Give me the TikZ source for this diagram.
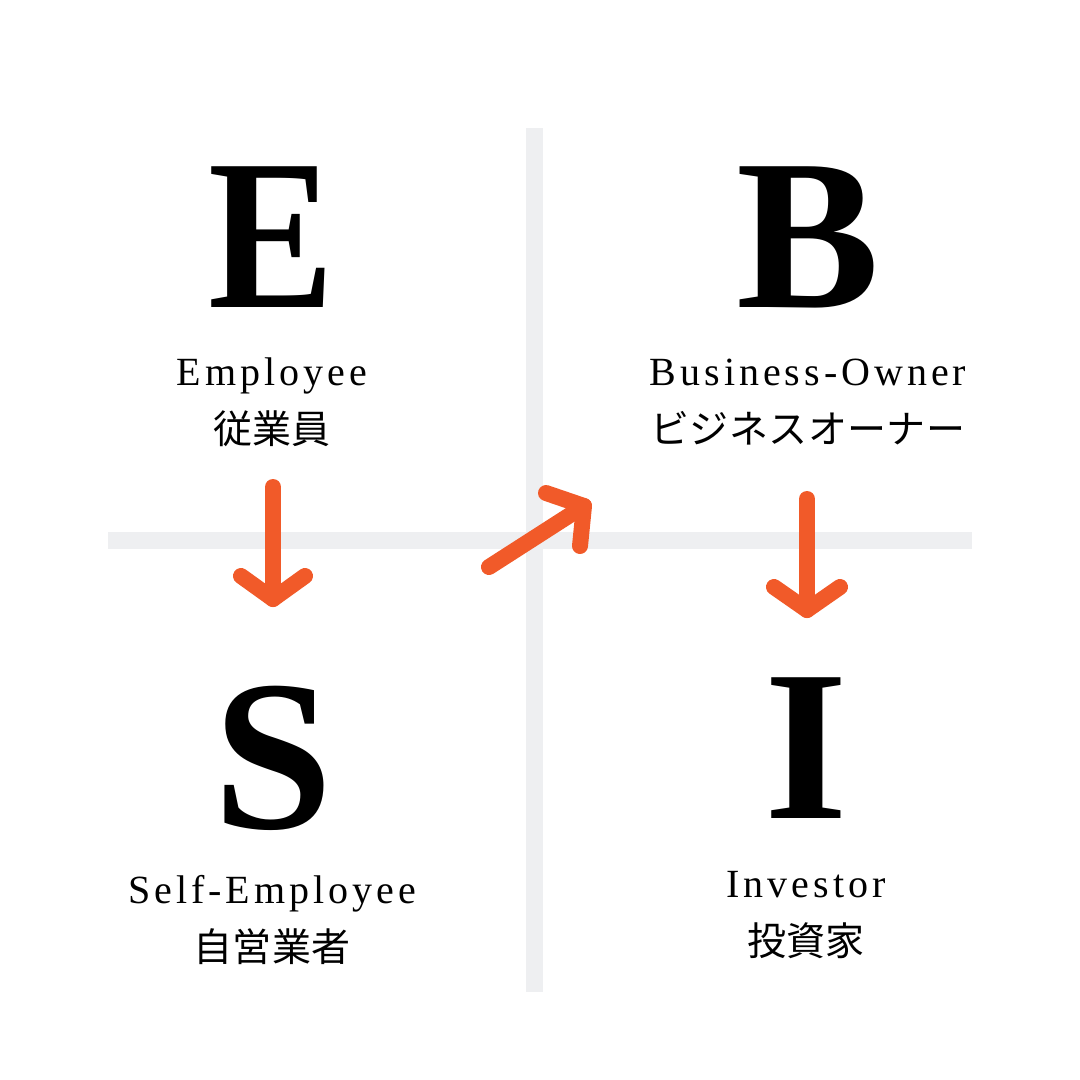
\documentclass[tikz,border=0pt]{standalone}
\usepackage{fontspec}
\setmainfont{Liberation Serif}
\newfontfamily\bigfont{Liberation Serif}[BoldFont={* Bold}]
\newfontfamily\labfont{Liberation Serif}[LetterSpace=10]
\newfontfamily\jpfont{Noto Sans CJK JP}[LetterSpace=1]
\definecolor{barcol}{HTML}{EEEFF1}
\definecolor{arrcol}{HTML}{F15A29}
\tikzset{
  bigletter/.style={anchor=base, inner sep=0pt, font=\bigfont\bfseries\fontsize{215}{215}\selectfont},
  enlabel/.style={anchor=base, inner sep=0pt, font=\labfont\fontsize{40}{40}\selectfont},
  jplabel/.style={anchor=base, inner sep=0pt, font=\jpfont\fontsize{39}{39}\selectfont},
  arrowline/.style={draw=arrcol, line width=16pt, line cap=round, line join=round}
}
\begin{document}
\begin{tikzpicture}[x=1pt,y=-1pt]
\useasboundingbox (0,0) rectangle (1080,1080);
\fill[white] (0,0) rectangle (1080,1080);
% cross
\fill[barcol] (108,532) rectangle (972,549);
\fill[barcol] (526,128) rectangle (543,992);
% big letters
\node[bigletter, xscale=0.88] (E) at (272,307) {E};
\node[bigletter] (B) at (808,307) {B};
\node[bigletter] (S) at (273,828) {S};
\node[bigletter] (I) at (806,818) {I};
% labels
\node[enlabel] (Elab) at (272,385) {Employee};
\node[jplabel] (Ejp) at (272,443) {従業員};
\node[enlabel] (Blab) at (808,385) {Business-Owner};
\node[jplabel] (Bjp) at (808,443) {ビジネスオーナー};
\node[enlabel] (Slab) at (272,903) {Self-Employee};
\node[jplabel] (Sjp) at (272,961) {自営業者};
\node[enlabel] (Ilab) at (806,897) {Investor};
\node[jplabel] (Ijp) at (806,955) {投資家};
% arrows
\coordinate (a1s) at (273,487);
\coordinate (a1t) at (273,599);
\coordinate (a1l) at (241,576);
\coordinate (a1r) at (305,576);
\draw[arrowline] (a1s) -- (a1t);
\draw[arrowline] (a1l) -- (a1t) -- (a1r);
\coordinate (a2s) at (489,567);
\coordinate (a2t) at (584,506);
\coordinate (a2u) at (546,493);
\coordinate (a2d) at (580,546);
\draw[arrowline] (a2s) -- (a2t);
\draw[arrowline] (a2u) -- (a2t) -- (a2d);
\coordinate (a3s) at (807,499);
\coordinate (a3t) at (807,610);
\coordinate (a3l) at (774,587);
\coordinate (a3r) at (840,587);
\draw[arrowline] (a3s) -- (a3t);
\draw[arrowline] (a3l) -- (a3t) -- (a3r);
\end{tikzpicture}
\end{document}
